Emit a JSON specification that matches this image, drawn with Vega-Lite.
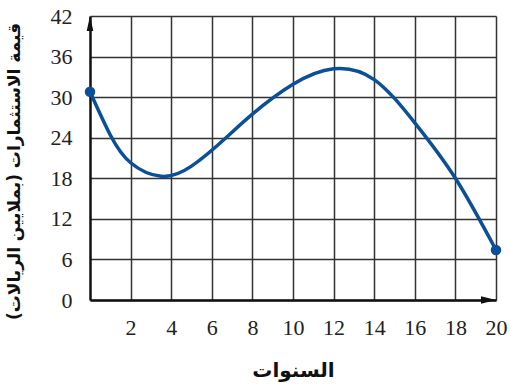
{
  "$schema": "https://vega.github.io/schema/vega-lite/v6.json",
  "width": 406,
  "height": 284,
  "autosize": "none",
  "padding": {"left": 90, "top": 16, "right": 13, "bottom": 87},
  "background": "white",
  "config": {"view": {"stroke": null}},
  "datasets": {
    "curve": [
      {"x": 0, "y": 30.8},
      {"x": 1, "y": 24.4},
      {"x": 2, "y": 20.3},
      {"x": 3.5, "y": 18.3},
      {"x": 5, "y": 19.8},
      {"x": 6.7, "y": 24},
      {"x": 8, "y": 27.5},
      {"x": 10, "y": 31.9},
      {"x": 12, "y": 34.2},
      {"x": 14, "y": 32.6},
      {"x": 16, "y": 26.2},
      {"x": 18, "y": 18},
      {"x": 20, "y": 7.4}
    ],
    "ends": [
      {"x": 0, "y": 30.8},
      {"x": 20, "y": 7.4}
    ],
    "arrows": [
      {"x": 0, "y": 42, "dir": "up"},
      {"x": 20, "y": 0, "dir": "right"}
    ]
  },
  "encoding": {
    "x": {
      "field": "x",
      "type": "quantitative",
      "scale": {"domain": [0, 20], "nice": false, "zero": false},
      "axis": {
        "values": [2, 4, 6, 8, 10, 12, 14, 16, 18, 20],
        "title": "السنوات",
        "titleFont": "DejaVu Sans",
        "titleFontSize": 20,
        "titleFontWeight": "bold",
        "titleColor": "#111",
        "titleX": 203,
        "titleY": 70,
        "titleBaseline": "middle",
        "labelFont": "Liberation Serif",
        "labelFontSize": 22,
        "labelColor": "#222",
        "labelPadding": 17,
        "labelFlush": false,
        "ticks": false,
        "domainColor": "#111",
        "domainWidth": 2.5,
        "grid": true,
        "gridColor": "#333",
        "gridWidth": 1.5,
        "gridOpacity": 1
      }
    },
    "y": {
      "field": "y",
      "type": "quantitative",
      "scale": {"domain": [0, 42], "nice": false, "zero": false},
      "axis": {
        "values": [0, 6, 12, 18, 24, 30, 36, 42],
        "title": "قيمة الاستثمارات (بملايين الريالات)",
        "titleFont": "DejaVu Sans",
        "titleFontSize": 17,
        "titleFontWeight": "bold",
        "titleColor": "#111",
        "titleAngle": -90,
        "titleX": -76,
        "titleY": 155,
        "titleBaseline": "middle",
        "titleAlign": "center",
        "labelFont": "Liberation Serif",
        "labelFontSize": 22,
        "labelColor": "#222",
        "labelPadding": 18,
        "labelFlush": false,
        "ticks": false,
        "domainColor": "#111",
        "domainWidth": 2.5,
        "grid": true,
        "gridColor": "#333",
        "gridWidth": 1.5,
        "gridOpacity": 1
      }
    }
  },
  "layer": [
    {
      "data": {"name": "curve"},
      "mark": {"type": "line", "interpolate": "natural", "color": "#0b4f96", "strokeWidth": 3.5}
    },
    {
      "data": {"name": "ends"},
      "mark": {"type": "point", "filled": true, "color": "#0b4f96", "size": 110, "opacity": 1}
    },
    {
      "data": {"name": "arrows"},
      "mark": {"type": "point", "filled": true, "color": "#111", "size": 900, "opacity": 1},
      "encoding": {
        "shape": {
          "field": "dir",
          "type": "nominal",
          "scale": {"domain": ["up", "right"], "range": ["M0,0L-0.22,1L0.22,1Z", "M0,0L-1,-0.25L-1,0.25Z"]},
          "legend": null
        }
      }
    }
  ]
}
